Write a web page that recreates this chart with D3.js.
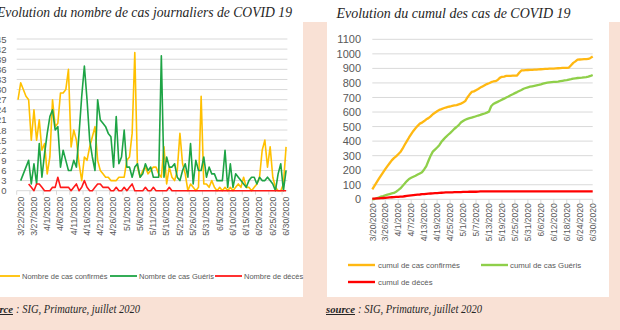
<!DOCTYPE html>
<html><head><meta charset="utf-8">
<script src="https://cdn.jsdelivr.net/npm/d3@7"></script>
<style>
html,body{margin:0;padding:0;background:#f9e1d5;}
svg{display:block;}
</style></head><body>
<svg id="c" width="620" height="330"></svg>
<script>
// ---------- DATA ----------
const dailyStart = "2020-03-21", dailyEnd = "2020-06-30";
const cumulStart = "2020-03-20", cumulEnd = "2020-06-30";

const dailyTickLabels = ["3/22/2020","3/27/2020","4/1/2020","4/6/2020","4/11/2020","4/16/2020","4/21/2020","4/26/2020","5/1/2020","5/6/2020","5/11/2020","5/16/2020","5/21/2020","5/26/2020","5/31/2020","6/5/2020","6/10/2020","6/15/2020","6/20/2020","6/25/2020","6/30/2020"];
const cumulTickLabels = ["3/20/2020","3/26/2020","4/1/2020","4/7/2020","4/13/2020","4/19/2020","4/25/2020","5/1/2020","5/7/2020","5/13/2020","5/19/2020","5/25/2020","5/31/2020","6/6/2020","6/12/2020","6/18/2020","6/24/2020","6/30/2020"];
const dailyYTicks = [0,3,6,9,12,15,18,21,24,27,30,33,36,39,42,45];
const cumulYTicks = [0,100,200,300,400,500,600,700,800,900,1000,1100];

const dailySeriesNames = ["Nombre de cas confirmés","Nombre de cas Guéris","Nombre de décès"];
const cumulSeriesNames = ["cumul de cas confirmés","cumul de cas Guéris","cumul de décès"];

const dailyConfirmed = [27,32,30,28,27,15,24,15,21,12,
 14,5,10,27,19,20,29,29,30,36,
 13,18,15,8,3,10,9,13,16,19,
 9,6,5,4,4,3,3,3,4,4,
 4,9,10,17,41,7,4,6,7,5,
 6,7,7,5,4,13,2,7,4,3,
 6,17,8,5,0,2,1,0,1,28,
 2,2,1,3,1,0,1,0,1,0,
 1,0,1,2,1,4,1,1,0,1,
 2,4,12,15,7,13,4,1,0,0,
 2,13];
const dailyRecovered = [null,3,5,7,9,2,8,2,14,4,
 11,17,22,24,18,19,7,12,9,6,
 6,9,7,17,28,37,27,15,10,6,
 27,21,20,19,17,16,7,22,8,10,
 18,7,7,4,7,8,4,5,8,6,
 7,4,4,4,40,4,10,7,7,8,
 4,3,6,8,4,14,2,9,6,6,
 10,4,7,5,5,3,3,3,12,1,
 8,1,5,4,3,2,1,3,4,4,
 2,4,3,3,4,3,2,0,5,8,
 0,6];
const dailyDeaths = [null,null,null,null,2,1,0,2,2,1,
 0,0,0,1,1,4,1,1,1,1,
 0,1,2,0,1,3,1,0,0,1,
 2,2,1,1,1,0,0,1,0,0,
 1,0,1,2,0,0,0,0,1,0,
 0,1,0,0,0,0,0,1,0,0,
 0,0,0,0,0,0,0,0,0,0,
 0,0,0,0,0,0,0,0,0,0,
 0,0,0,0,0,0,0,0,0,0,
 0,0,0,0,0,0,0,0,0,0,
 0,0];

const cumulConfirmed = [69,92,116,140,163,185,207,228,248,268,
 283,295,310,325,348,375,400,425,448,470,
 488,505,520,527,538,550,558,570,585,595,
 605,615,620,626,631,635,638,642,645,648,
 653,658,665,675,700,720,738,742,750,758,
 768,776,784,792,798,805,810,812,820,835,
 842,844,848,849,849,850,850,851,870,886,
 887,888,889,890,890,891,892,893,894,895,
 896,897,898,898,899,900,901,902,903,903,
 904,906,922,938,948,960,961,962,963,964,
 965,972,982];
const cumulRecovered = [0,2,6,12,18,22,27,32,36,40,
 44,52,63,75,92,108,125,140,148,155,
 162,170,178,186,205,228,265,300,328,342,
 356,372,395,412,428,442,455,470,485,497,
 510,528,538,547,553,558,562,566,571,576,
 580,585,590,596,603,640,655,663,670,677,
 685,692,700,707,715,722,730,737,745,752,
 760,765,770,774,777,780,783,786,790,795,
 799,802,804,806,807,808,809,812,815,818,
 820,823,826,830,832,834,835,836,838,840,
 843,848,855];
const cumulDeaths = [5,5,6,7,8,9,10,12,13,14,
 15,16,17,18,19,21,23,25,27,29,
 31,32,33,35,36,38,39,40,41,42,
 43,44,45,46,47,47,48,48,49,49,
 50,50,51,51,51,52,52,52,52,53,
 54,54,55,55,55,55,55,55,55,55,
 55,55,55,55,55,55,55,55,55,55,
 55,55,55,55,55,55,55,55,55,55,
 55,55,55,55,55,55,55,55,55,55,
 55,55,55,55,55,55,55,55,55,55,
 55,55,55];

// ---------- STYLE ----------
const PEACH = "#f9e1d5", GRID = "#d9d9d9", TXT = "#595959";
const SANS = "'Liberation Sans', Arial, sans-serif";
const SERIF = "'Liberation Serif', 'Times New Roman', serif";

const svg = d3.select("#c");
svg.append("rect").attr("width",620).attr("height",330).attr("fill",PEACH);
svg.append("rect").attr("width",620).attr("height",22).attr("fill","#ffffff");
svg.append("rect").attr("x",-2).attr("y",22).attr("width",305).attr("height",275).attr("fill","#ffffff");
svg.append("rect").attr("x",327).attr("y",22).attr("width",282).attr("height",275).attr("fill","#ffffff");

const parse = d3.timeParse("%Y-%m-%d");
const fmt = d3.timeFormat("%-m/%-d/%Y");

// ---------- LEFT CHART ----------
const dDates = d3.timeDay.range(parse(dailyStart), d3.timeDay.offset(parse(dailyEnd),1)).map(fmt);
const xL = d3.scaleBand().domain(dDates).range([16.7, 287.4]).padding(0);
const xLc = k => xL(k) + xL.bandwidth()/2;
const yL = d3.scaleLinear().domain([0,45]).range([190.7, 39]);

const gL = svg.append("g");
gL.selectAll("line.grid").data(dailyYTicks).join("line")
  .attr("x1", xL.range()[0]).attr("x2", xL.range()[1])
  .attr("y1", d => yL(d)).attr("y2", d => yL(d))
  .attr("stroke", GRID).attr("stroke-width", 1);

const tickIdx = d3.range(0, dDates.length, 5);
gL.selectAll("line.tk").data(tickIdx).join("line")
  .attr("x1", d => xL(dDates[d])).attr("x2", d => xL(dDates[d]))
  .attr("y1", yL(0)).attr("y2", yL(0)+4)
  .attr("stroke", GRID);

const yAxL = gL.append("g").attr("transform","translate(6.5,0)")
  .call(d3.axisLeft(yL).tickValues(dailyYTicks).tickFormat(d3.format("d")).tickSize(0).tickPadding(0));
yAxL.select(".domain").remove();
yAxL.selectAll("text").attr("fill",TXT).style("font-family",SANS).style("font-size","9.5px");

const xAxL = gL.append("g").attr("transform",`translate(0,${yL(0)})`)
  .call(d3.axisBottom(xL).tickValues(dailyTickLabels).tickSize(0));
xAxL.select(".domain").remove();
xAxL.selectAll("text").attr("transform","rotate(-90)").attr("x",-6).attr("y",0).attr("dy","0.32em")
  .style("text-anchor","end").attr("fill",TXT).style("font-family",SANS).style("font-size","8.8px");

const dailySeries = [
  {v: dailyConfirmed, c:"#ffc000"},
  {v: dailyRecovered, c:"#1ea445"},
  {v: dailyDeaths, c:"#ff1a1a"}
];
const lineL = d3.line().defined(d => d.v != null).x(d => xLc(d.k)).y(d => yL(d.v));
dailySeries.forEach(s => {
  gL.append("path").datum(dDates.map((k,i) => ({k, v: s.v[i]})))
    .attr("d", lineL).attr("fill","none").attr("stroke", s.c)
    .attr("stroke-width", 1.6).attr("stroke-linejoin","round");
});

const legL = [{x1:-7,x2:20,tx:22},{x1:110,x2:137,tx:139},{x1:215,x2:242,tx:244}];
legL.forEach((p,i) => {
  svg.append("line").attr("x1",p.x1).attr("x2",p.x2).attr("y1",276).attr("y2",276)
    .attr("stroke", dailySeries[i].c).attr("stroke-width",1.8);
  svg.append("text").attr("x",p.tx).attr("y",276).attr("dy","0.35em").text(dailySeriesNames[i])
    .attr("fill",TXT).style("font-family",SANS).style("font-size","7.5px");
});

// ---------- RIGHT CHART ----------
const cDates = d3.timeDay.range(parse(cumulStart), d3.timeDay.offset(parse(cumulEnd),1)).map(fmt);
const xR = d3.scalePoint().domain(cDates).range([372.3, 592.7]);
const yR = d3.scaleLinear().domain([0,1100]).range([199.3, 39.3]);
const gR = svg.append("g");
gR.selectAll("line.grid").data(cumulYTicks).join("line")
  .attr("x1", xR.range()[0]).attr("x2", xR.range()[1])
  .attr("y1", d => yR(d)).attr("y2", d => yR(d))
  .attr("stroke", GRID).attr("stroke-width", 1);
gR.selectAll("line.tk").data(cumulTickLabels).join("line")
  .attr("x1", d => xR(d)).attr("x2", d => xR(d))
  .attr("y1", yR(0)).attr("y2", yR(0)+4).attr("stroke", GRID);

const yAxR = gR.append("g").attr("transform","translate(361,0)")
  .call(d3.axisLeft(yR).tickValues(cumulYTicks).tickFormat(d3.format("d")).tickSize(0).tickPadding(0));
yAxR.select(".domain").remove();
yAxR.selectAll("text").attr("fill",TXT).style("font-family",SANS).style("font-size","11px");

const xAxR = gR.append("g").attr("transform",`translate(0,${yR(0)})`)
  .call(d3.axisBottom(xR).tickValues(cumulTickLabels).tickSize(0));
xAxR.select(".domain").remove();
xAxR.selectAll("text").attr("transform","rotate(-90)").attr("x",-4).attr("y",0).attr("dy","0.32em")
  .style("text-anchor","end").attr("fill",TXT).style("font-family",SANS).style("font-size","8.5px");

const cumulSeries = [
  {v: cumulConfirmed, c:"#ffb812"},
  {v: cumulRecovered, c:"#8fcf4a"},
  {v: cumulDeaths, c:"#ff0000"}
];
const lineR = d3.line().x(d => xR(d.k)).y(d => yR(d.v));
cumulSeries.forEach(s => {
  gR.append("path").datum(cDates.map((k,i) => ({k, v: s.v[i]})))
    .attr("d", lineR).attr("fill","none").attr("stroke", s.c)
    .attr("stroke-width", 2.3).attr("stroke-linejoin","round");
});

const legR = [{x1:348,x2:375,tx:378,y:265},{x1:481,x2:508,tx:510,y:265},{x1:348,x2:375,tx:378,y:282}];
legR.forEach((p,i) => {
  svg.append("line").attr("x1",p.x1).attr("x2",p.x2).attr("y1",p.y).attr("y2",p.y)
    .attr("stroke", cumulSeries[i].c).attr("stroke-width",2.4);
  svg.append("text").attr("x",p.tx).attr("y",p.y).attr("dy","0.35em").text(cumulSeriesNames[i])
    .attr("fill",TXT).style("font-family",SANS).style("font-size","7.8px");
});

// ---------- TITLES & SOURCES ----------
svg.append("text").attr("x",-3).attr("y",17).text("Evolution du nombre de cas journaliers de COVID 19")
  .attr("textLength",295).attr("lengthAdjust","spacingAndGlyphs")
  .style("font-family",SERIF).style("font-style","italic").style("font-size","15.5px").attr("fill","#262626");
svg.append("text").attr("x",336.5).attr("y",18).text("Evolution du cumul des cas de COVID 19")
  .attr("textLength",234).attr("lengthAdjust","spacingAndGlyphs")
  .style("font-family",SERIF).style("font-style","italic").style("font-size","15.5px").attr("fill","#262626");

[{sx:-16, rx:16}, {sx:326, rx:358}].forEach(p => {
  svg.append("text").attr("x",p.sx).attr("y",313).text("source")
    .attr("textLength",29).attr("lengthAdjust","spacingAndGlyphs")
    .style("font-family",SERIF).style("font-style","italic").style("font-weight","bold")
    .style("font-size","10px").style("text-decoration","underline").attr("fill","#262626");
  svg.append("text").attr("x",p.rx).attr("y",313).text(": SIG, Primature, juillet 2020")
    .attr("textLength",124).attr("lengthAdjust","spacingAndGlyphs")
    .style("font-family",SERIF).style("font-style","italic").style("font-size","12px").attr("fill","#262626");
});
</script>
</body></html>
